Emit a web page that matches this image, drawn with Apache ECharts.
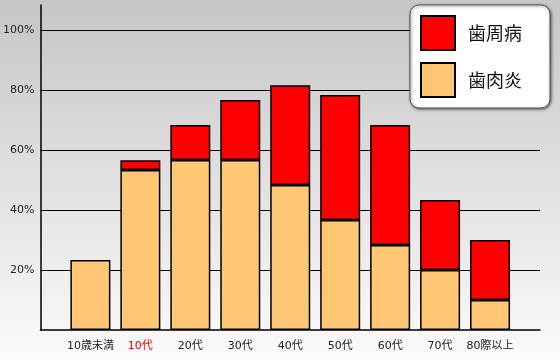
<!DOCTYPE html>
<html><head><meta charset="utf-8">
<script src="https://cdn.jsdelivr.net/npm/echarts@6/dist/echarts.min.js"></script>
<style>html,body{margin:0;padding:0;}#c{width:560px;height:360px;}</style>
</head><body><div id="c"></div>
<script>
// Categories (leading/trailing blanks give the axis its end padding)
var categories = ['', '10歳未満', '10代', '20代', '30代', '40代', '50代', '60代', '70代', '80際以上', ''];
// 歯肉炎 (gingivitis) %
var gingivitis = [null, 23.3, 53.3, 56.7, 56.7, 48.3, 36.7, 28.3, 20.0, 10.0, null];
// 歯周病 (periodontitis) %, stacked on top
var periodontitis = [null, null, 3.3, 11.6, 20.0, 33.3, 41.6, 40.0, 23.3, 20.0, null];
var yTicks = [20, 40, 60, 80, 100];

var font = '"DejaVu Sans", "Noto Sans CJK JP", sans-serif';
var cjk = '"Noto Sans CJK JP", "Noto Sans", sans-serif';
var chart = echarts.init(document.getElementById('c'), null, {renderer: 'canvas'});
chart.setOption({
  animation: false,
  backgroundColor: new echarts.graphic.LinearGradient(0, 0, 0, 1, [
    {offset: 0, color: '#c6c6c6'}, {offset: 1, color: '#fbfbfb'}
  ]),
  grid: {left: 40, right: 20, top: 5, bottom: 30},
  legend: {
    data: ['歯周病', '歯肉炎'],
    icon: 'rect',
    orient: 'vertical',
    left: 410, top: 5,
    padding: [10, 28, 10, 10],
    itemWidth: 34, itemHeight: 34, itemGap: 11,
    backgroundColor: '#ffffff',
    borderColor: '#555', borderWidth: 1, borderRadius: 9,
    shadowColor: 'rgba(0,0,0,0.55)', shadowBlur: 3, shadowOffsetX: 1, shadowOffsetY: 1,
    textStyle: {fontSize: 18, color: '#111', fontFamily: cjk, padding: [0, 0, 0, 8]}
  },
  xAxis: {
    type: 'category', data: categories, boundaryGap: false,
    axisLine: {lineStyle: {color: '#000', width: 1.5}},
    axisTick: {show: false},
    axisLabel: {
      interval: 0, margin: 11, fontSize: 11, fontFamily: font,
      color: function (v) { return v === '10代' ? '#ff0000' : '#222'; }
    }
  },
  yAxis: {
    type: 'value', min: 0, max: 325 / 3, interval: 20,
    axisLine: {show: true, lineStyle: {color: '#000', width: 1.5}},
    axisTick: {show: false},
    splitLine: {show: true, showMinLine: false, showMaxLine: false, lineStyle: {color: '#000', width: 1}},
    axisLabel: {
      margin: 6, fontSize: 11, fontFamily: font, color: '#222',
      formatter: function (v) { return yTicks.indexOf(Math.round(v * 1000) / 1000) >= 0 ? v + '%' : ''; }
    }
  },
  series: [
    {
      name: '歯肉炎', type: 'bar', stack: 'a', barWidth: 40, data: gingivitis,
      itemStyle: {color: '#ffc673', borderColor: '#000', borderWidth: 1.5}
    },
    {
      name: '歯周病', type: 'bar', stack: 'a', barWidth: 40, data: periodontitis,
      itemStyle: {color: '#ff0000', borderColor: '#000', borderWidth: 1.5}
    }
  ]
});
</script></body></html>
